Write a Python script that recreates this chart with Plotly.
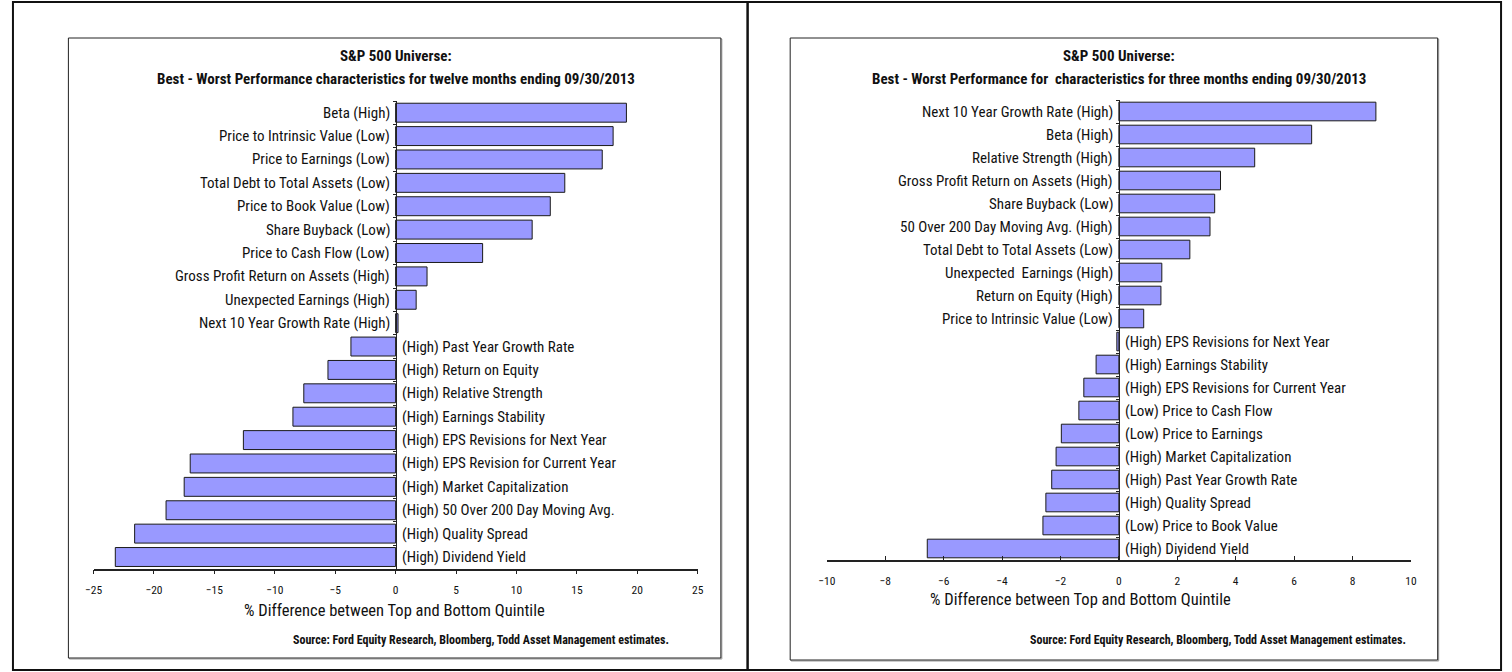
import plotly.graph_objects as go

W, H = 1512, 672
FONT = "Liberation Sans Narrow, Arial Narrow, Roboto Condensed, Liberation Sans, sans-serif"

# ---------------- data ----------------
left_title = "S&P 500 Universe:"
left_subtitle = "Best - Worst Performance characteristics for twelve months ending 09/30/2013"
left_labels = [
    "Beta (High)",
    "Price to Intrinsic Value (Low)",
    "Price to Earnings (Low)",
    "Total Debt to Total Assets (Low)",
    "Price to Book Value (Low)",
    "Share Buyback (Low)",
    "Price to Cash Flow (Low)",
    "Gross Profit Return on Assets (High)",
    "Unexpected Earnings (High)",
    "Next 10 Year Growth Rate (High)",
    "(High) Past Year Growth Rate",
    "(High) Return on Equity",
    "(High) Relative Strength",
    "(High) Earnings Stability",
    "(High) EPS Revisions for Next Year",
    "(High) EPS Revision for Current Year",
    "(High) Market Capitalization",
    "(High) 50 Over 200 Day Moving Avg.",
    "(High) Quality Spread",
    "(High) Dividend Yield",
]
left_values = [19.1, 18.0, 17.1, 14.0, 12.8, 11.3, 7.2, 2.6, 1.7, 0.2,
               -3.7, -5.6, -7.6, -8.5, -12.6, -17.0, -17.5, -19.0, -21.6, -23.2]
left_ticks = [-25, -20, -15, -10, -5, 0, 5, 10, 15, 20, 25]

right_title = "S&P 500 Universe:"
right_subtitle = "Best - Worst Performance for  characteristics for three months ending 09/30/2013"
right_labels = [
    "Next 10 Year Growth Rate (High)",
    "Beta (High)",
    "Relative Strength (High)",
    "Gross Profit Return on Assets (High)",
    "Share Buyback (Low)",
    "50 Over 200 Day Moving Avg. (High)",
    "Total Debt to Total Assets (Low)",
    "Unexpected  Earnings (High)",
    "Return on Equity (High)",
    "Price to Intrinsic Value (Low)",
    "(High) EPS Revisions for Next Year",
    "(High) Earnings Stability",
    "(High) EPS Revisions for Current Year",
    "(Low) Price to Cash Flow",
    "(Low) Price to Earnings",
    "(High) Market Capitalization",
    "(High) Past Year Growth Rate",
    "(High) Quality Spread",
    "(Low) Price to Book Value",
    "(High) Diyidend Yield",
]
right_values = [8.8, 6.6, 4.65, 3.48, 3.28, 3.12, 2.43, 1.47, 1.44, 0.85,
                -0.07, -0.78, -1.2, -1.37, -1.97, -2.15, -2.3, -2.5, -2.6, -6.56]
right_ticks = [-10, -8, -6, -4, -2, 0, 2, 4, 6, 8, 10]

axis_title = "% Difference between Top and Bottom Quintile"
source_text = "Source: Ford Equity Research, Bloomberg, Todd Asset Management estimates."

# ---------------- helpers ----------------
def px(x):
    return x / W

def py(y):
    return 1 - y / H

BAR_COLOR = "#9999FF"
EDGE = "#1a1a1a"

panels = [
    dict(labels=left_labels, values=left_values, ticks=left_ticks, rng=[-25, 25],
         xdom=[px(85.4), px(695.6)], ydom=[py(568.7), py(101)],
         xa="x", ya="y", tickdir="outside",
         title=left_title, subtitle=left_subtitle,
         frame=(60, 38, 719, 658), src_x=477, atitle_x=389, atitle_y=610, ticklab_pad=6),
    dict(labels=right_labels, values=right_values, ticks=right_ticks, rng=[-10, 10],
         xdom=[px(826), px(1416)], ydom=[py(560), py(100)],
         xa="x2", ya="y2", tickdir="inside",
         title=right_title, subtitle=right_subtitle,
         frame=(789, 38, 1443, 660), src_x=1221, atitle_x=1082, atitle_y=599, ticklab_pad=9),
]

fig = go.Figure()
annotations = []
shapes = []
layout = {}

for i, p in enumerate(panels):
    fig.add_trace(go.Bar(
        x=p["values"], y=p["labels"], orientation="h",
        xaxis=p["xa"], yaxis=p["ya"], width=0.81,
        marker=dict(color=BAR_COLOR, line=dict(color=EDGE, width=1)),
        showlegend=False, hoverinfo="x+y",
    ))
    xkey = "xaxis" if i == 0 else "xaxis2"
    ykey = "yaxis" if i == 0 else "yaxis2"
    zero_pos = p["xdom"][0] + (0 - p["rng"][0]) / (p["rng"][1] - p["rng"][0]) * (p["xdom"][1] - p["xdom"][0])
    layout[xkey] = dict(
        domain=p["xdom"], anchor=p["ya"], range=p["rng"], tickvals=p["ticks"],
        showline=True, linecolor="#222", linewidth=1.5, ticks=p["tickdir"], ticklen=4,
        tickcolor="#222", tickwidth=1, showgrid=False, zeroline=False,
        tickfont=dict(family=FONT, size=11.5, color="#111"),
        ticklabelstandoff=p["ticklab_pad"], fixedrange=True,
    )
    layout[ykey] = dict(
        domain=p["ydom"], anchor="free", position=zero_pos, type="category",
        categoryorder="array", categoryarray=p["labels"], autorange="reversed",
        showline=True, linecolor="#222", linewidth=1, ticks="outside", ticklen=3,
        tickcolor="#222", tickson="boundaries", showticklabels=False,
        showgrid=False, zeroline=False, fixedrange=True,
    )
    # category labels next to the zero axis
    for lab, v in zip(p["labels"], p["values"]):
        annotations.append(dict(
            x=0, y=lab, xref=p["xa"], yref=p["ya"], text=lab, showarrow=False,
            xanchor="right" if v >= 0 else "left", xshift=-4 if v >= 0 else 4,
            font=dict(family=FONT, size=15, color="#111"),
        ))
    annotations.append(dict(x=zero_pos, y=py(56), xref="paper", yref="paper", text="<b>" + p["title"] + "</b>",
                            showarrow=False, xanchor="center", yanchor="middle",
                            font=dict(family=FONT, size=15, color="#111")))
    annotations.append(dict(x=zero_pos, y=py(79), xref="paper", yref="paper", text="<b>" + p["subtitle"] + "</b>",
                            showarrow=False, xanchor="center", yanchor="middle",
                            font=dict(family=FONT, size=15, color="#111")))
    annotations.append(dict(x=px(p["atitle_x"]), y=py(p["atitle_y"]), xref="paper", yref="paper", text=axis_title,
                            showarrow=False, xanchor="center", yanchor="middle",
                            font=dict(family=FONT, size=16.5, color="#111")))
    annotations.append(dict(x=px(p["src_x"]), y=py(640), xref="paper", yref="paper", text="<b>" + source_text + "</b>",
                            showarrow=False, xanchor="center", yanchor="middle",
                            font=dict(family=FONT, size=12, color="#111")))
    x0, y0, x1, y1 = p["frame"]
    shapes.append(dict(type="rect", xref="paper", yref="paper", x0=px(x0 + 1), y0=py(y1 + 1), x1=px(x1 + 1), y1=py(y0 + 1),
                       line=dict(color="#999", width=1), layer="below"))
    shapes.append(dict(type="rect", xref="paper", yref="paper", x0=px(x0), y0=py(y1), x1=px(x1), y1=py(y0),
                       line=dict(color="#222", width=1), fillcolor="white", layer="below"))

# outer border and divider
shapes.append(dict(type="rect", xref="paper", yref="paper", x0=px(4), y0=py(670), x1=px(1507), y1=py(2),
                   line=dict(color="#111", width=2), layer="below"))
shapes.append(dict(type="line", xref="paper", yref="paper", x0=px(746), x1=px(746), y0=py(670), y1=py(2),
                   line=dict(color="#111", width=2.5), layer="below"))

fig.update_layout(
    width=W, height=H, margin=dict(l=0, r=0, t=0, b=0),
    paper_bgcolor="white", plot_bgcolor="rgba(0,0,0,0)",
    annotations=annotations, shapes=shapes, bargap=0.19,
    font=dict(family=FONT, color="#111"),
    **layout,
)

fig.write_html("out.html", config={"displayModeBar": False})
